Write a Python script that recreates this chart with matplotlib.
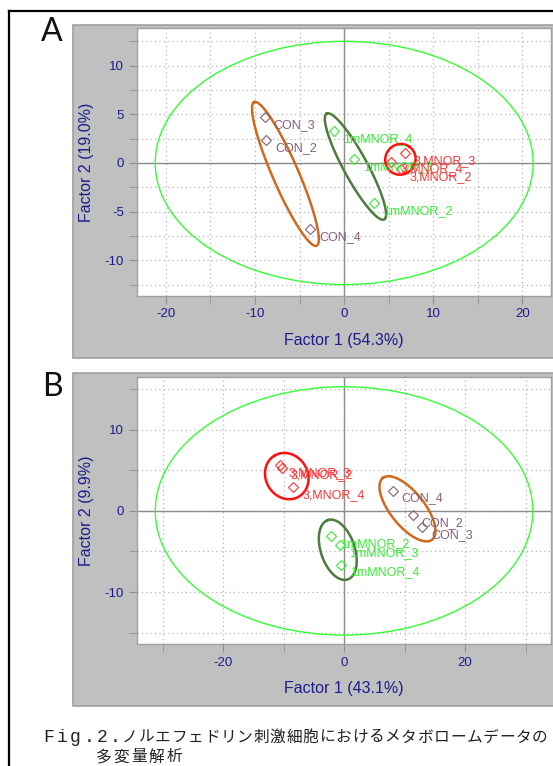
import numpy as np
import matplotlib
matplotlib.use('Agg')
import matplotlib.pyplot as plt
from matplotlib.patches import Ellipse, Rectangle

plt.rcParams['font.family'] = ['Liberation Sans', 'DejaVu Sans']

# --- data ------------------------------------------------------------------
groups = ['CON', '1mMNOR', '3,MNOR']

# panel A scores (Factor 1, Factor 2)
a_names = ['CON_2', 'CON_3', 'CON_4',
           '1mMNOR_2', '1mMNOR_3', '1mMNOR_4',
           '3,MNOR_2', '3,MNOR_3', '3,MNOR_4']
a_group = ['CON', 'CON', 'CON', '1mMNOR', '1mMNOR', '1mMNOR', '3,MNOR', '3,MNOR', '3,MNOR']
a_f1 = [-8.75, -8.94, -3.82, 3.37, 1.12, -1.09, 6.36, 6.81, 5.27]
a_f2 = [2.36, 4.70, -6.78, -4.14, 0.41, 3.29, -0.62, 1.00, 0.13]
a_ellipse = (21.2, 12.5)   # hotelling semi-axes
a_xlabel = 'Factor 1 (54.3%)'
a_ylabel = 'Factor 2 (19.0%)'

# panel B scores
b_names = ['CON_2', 'CON_3', 'CON_4',
           '1mMNOR_2', '1mMNOR_3', '1mMNOR_4',
           '3,MNOR_2', '3,MNOR_3', '3,MNOR_4']
b_group = a_group
b_f1 = [11.36, 12.89, 8.05, -2.20, -0.66, -0.45, -10.25, -10.58, -8.38]
b_f2 = [-0.53, -2.01, 2.51, -3.09, -4.20, -6.63, 5.31, 5.64, 2.93]
b_ellipse = (31.2, 15.3)
b_xlabel = 'Factor 1 (43.1%)'
b_ylabel = 'Factor 2 (9.9%)'

caption1 = 'Fig.2.ノルエフェドリン刺激細胞におけるメタボロームデータの'
caption2 = '多変量解析'

# --- styles -----------------------------------------------------------------
W, H = 553, 766
NAVY = '#1c1c8c'
GRAY_BG = '#c0c0c0'
EDGE = '#a0a0a0'
point_color = {'CON': '#84607a', '1mMNOR': '#33ee33', '3,MNOR': '#ff3333'}
ring_color = {'CON': '#d0691e', '1mMNOR': '#4f7c3c', '3,MNOR': '#ff1010'}
# hand drawn group rings: (pad along major axis, semi-minor) in pixels
ring_pad = {
    'A': {'CON': (18, 13), '1mMNOR': (19, 12), '3,MNOR': (8, 15)},
    'B': {'CON': (16, 17), '1mMNOR': (16, 17), '3,MNOR': (11, 21)},
}

fig = plt.figure(figsize=(W / 100, H / 100), dpi=100)


def fx(px):
    return px / W


def fy(py):
    return 1 - py / H


# outer frame lines
fig.add_artist(plt.Line2D([fx(8.5), fx(8.5)], [fy(11), 0], color='black', lw=1.6))
fig.add_artist(plt.Line2D([fx(8.5), 1], [fy(11), fy(11)], color='black', lw=1.6))


def group_ring(ax, xs, ys, color, pad):
    pts = ax.transData.transform(np.column_stack([xs, ys]))
    c = pts.mean(axis=0)
    cov = np.cov((pts - c).T)
    vals, vecs = np.linalg.eigh(cov)
    u = vecs[:, 1]
    v = np.array([-u[1], u[0]])
    proj = (pts - c) @ u
    mid = c + u * (proj.max() + proj.min()) / 2
    a = (proj.max() - proj.min()) / 2 + pad[0]
    b = pad[1]
    t = np.linspace(0, 2 * np.pi, 200)
    ring = mid + np.outer(a * np.cos(t), u) + np.outer(b * np.sin(t), v)
    data = ax.transData.inverted().transform(ring)
    ax.plot(data[:, 0], data[:, 1], color=color, lw=1.8, zorder=3)


def panel(key, box, names, grp, f1, f2, ell, xlim, ylim, xmaj, xmin, ymaj, ymin,
          xlabel, ylabel, letter, letter_y):
    gl, gt, gb = box['gray']
    fig.add_artist(Rectangle((fx(gl), fy(gb)), 1.01 - fx(gl), fy(gt) - fy(gb),
                             transform=fig.transFigure, facecolor=GRAY_BG,
                             edgecolor=EDGE, lw=1.2, zorder=0))
    l, r, t, b = box['ax']
    ax = fig.add_axes([fx(l), fy(b), fx(r) - fx(l), fy(t) - fy(b)])
    ax.set_xlim(*xlim)
    ax.set_ylim(*ylim)
    ax.set_facecolor('white')
    for s in ax.spines.values():
        s.set_color(EDGE)
        s.set_linewidth(1.0)

    ax.set_xticks(xmaj)
    ax.set_xticks(xmin, minor=True)
    ax.set_yticks(ymaj)
    ax.set_yticks(ymin, minor=True)
    ax.set_xticklabels([f'{v:g}' for v in xmaj])
    ax.set_yticklabels([f'{v:g}' for v in ymaj])
    ax.tick_params(which='both', direction='out', length=6, color='#909090',
                   labelcolor=NAVY, labelsize=9.5, pad=3)
    ax.grid(which='both', color='#b4b4b4', ls=(0, (1, 2.5)), lw=0.9)
    ax.set_axisbelow(True)
    ax.axhline(0, color='#8c8c8c', lw=1.0, zorder=1)
    ax.axvline(0, color='#8c8c8c', lw=1.0, zorder=1)

    ax.add_patch(Ellipse((0, 0), 2 * ell[0], 2 * ell[1], fill=False,
                         edgecolor='#33ff33', lw=1.0, zorder=2))

    f1 = np.array(f1)
    f2 = np.array(f2)
    grp = np.array(grp)
    for g in groups:
        m = grp == g
        group_ring(ax, f1[m], f2[m], ring_color[g], ring_pad[key][g])
        ax.plot(f1[m], f2[m], ls='none', marker='D', ms=5, mfc='none',
                mec=point_color[g], mew=0.8, zorder=4)
    for n, g, x, y in zip(names, grp, f1, f2):
        ax.annotate(n, (x, y), xytext=(6.5, -5.5), textcoords='offset points',
                    ha='left', va='center', fontsize=9, color=point_color[g],
                    zorder=5)

    ax.set_xlabel(xlabel, color=NAVY, fontsize=11.5, labelpad=9)
    ax.set_ylabel(ylabel, color=NAVY, fontsize=11.5, labelpad=8)
    fig.text(fx(52), fy(letter_y), letter, fontsize=23, ha='center', va='center',
             family=['Lato', 'DejaVu Sans'], color='#111111')
    return ax


panel('A', {'gray': (73, 25, 358), 'ax': (136.5, 551, 28.3, 296)},
      a_names, a_group, a_f1, a_f2, a_ellipse,
      (-23.3, 23.2), (-13.67, 13.84),
      [-20, -10, 0, 10, 20], [-15, -5, 5, 15],
      [-10, -5, 0, 5, 10], [-12.5, -7.5, -2.5, 2.5, 7.5, 12.5],
      a_xlabel, a_ylabel, 'A', 32)

panel('B', {'gray': (73, 373, 706), 'ax': (136.5, 551, 377, 644)},
      b_names, b_group, b_f1, b_f2, b_ellipse,
      (-34.3, 34.2), (-16.4, 16.5),
      [-20, 0, 20], [-30, -10, 10, 30],
      [-10, 0, 10], [-15, -5, 5, 15],
      b_xlabel, b_ylabel, 'B', 387)


# caption, typeset on a fixed pitch (half width for latin, full for kana/kanji)
def caption_line(text, x0, y, full=16.4, half=13.3):
    x = x0
    for ch in text:
        if ord(ch) < 0x2000:
            w, fam, size = half, ['Liberation Mono', 'DejaVu Sans Mono'], 13
        else:
            w, fam, size = full, ['Noto Sans CJK JP', 'DejaVu Sans'], 11.3
        fig.text(fx(x + w / 2), fy(y), ch, fontsize=size, ha='center', va='center',
                 family=fam, color='#222222')
        x += w


caption_line(caption1, 42, 737)
caption_line(caption2, 95, 757, full=17.6)

fig.savefig('out.png', dpi=100)
